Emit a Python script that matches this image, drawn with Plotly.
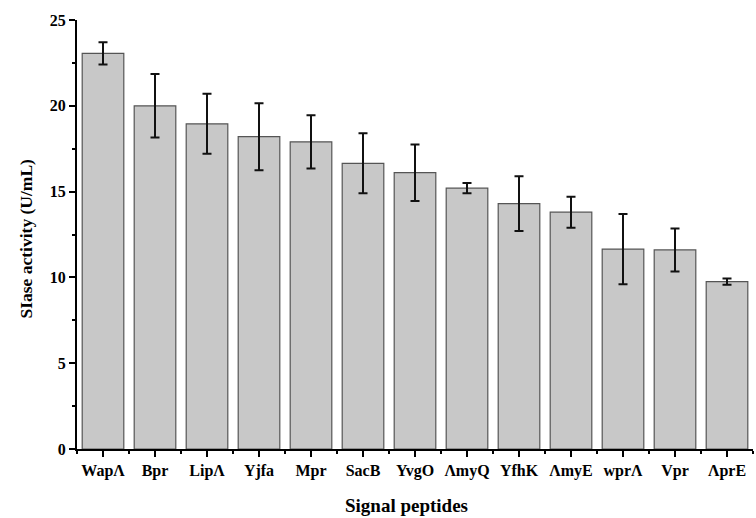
import plotly.graph_objects as go

categories = ["WapΛ", "Bpr", "LipΛ", "Yjfa", "Mpr", "SacB", "YvgO", "ΛmyQ", "YfhK", "ΛmyE", "wprΛ", "Vpr", "ΛprE"]
activity = [23.05, 20.0, 18.95, 18.2, 17.9, 16.65, 16.1, 15.2, 14.3, 13.8, 11.65, 11.6, 9.75]
errors = [0.65, 1.85, 1.75, 1.95, 1.55, 1.75, 1.65, 0.3, 1.6, 0.9, 2.05, 1.25, 0.18]
y_ticks = [0, 5, 10, 15, 20, 25]

font = "Liberation Serif"

fig = go.Figure()
fig.add_trace(go.Bar(
    x=list(range(len(categories))),
    y=activity,
    width=0.8,
    marker=dict(color="#c8c8c8", line=dict(color="#555555", width=1.2)),
    error_y=dict(type="data", array=errors, visible=True, color="#111111", thickness=2, width=4.5),
))

fig.add_annotation(
    text="<b>Signal peptides</b>", xref="paper", yref="paper", x=0.487, y=0,
    yshift=-56, xanchor="center", yanchor="middle", showarrow=False,
    font=dict(family=font, size=19, color="black"),
)
fig.add_annotation(
    text="<b>SIase activity (U/mL)</b>", xref="paper", yref="paper", x=0, y=0.5,
    xshift=-52, yshift=-4, xanchor="center", yanchor="middle", showarrow=False, textangle=-90,
    font=dict(family=font, size=17.5, color="black"),
)

fig.update_layout(
    width=756, height=518,
    margin=dict(l=77, r=3, t=20, b=69),
    paper_bgcolor="white", plot_bgcolor="white",
    showlegend=False,
    font=dict(family=font, size=16, color="black"),
    xaxis=dict(
        automargin=False,
        range=[-0.5, len(categories) - 0.5],
        tickmode="array",
        tickvals=list(range(len(categories))),
        ticktext=["<b>%s</b>" % c for c in categories],
        ticks="outside", ticklen=6, tickwidth=2, tickcolor="black",
        minor=dict(tickmode="array", tickvals=[i + 0.5 for i in range(-1, len(categories))],
                   ticks="outside", ticklen=3, tickwidth=1.5, tickcolor="black"),
        showline=True, linecolor="black", linewidth=2,
        showgrid=False, zeroline=False,
        tickfont=dict(family=font, size=16, color="black"),
    ),
    yaxis=dict(
        automargin=False,
        range=[0, 25],
        tickmode="array",
        tickvals=y_ticks,
        ticktext=["<b>%d</b>" % v for v in y_ticks],
        ticks="outside", ticklen=6, tickwidth=2, tickcolor="black",
        minor=dict(dtick=2.5, ticks="outside", ticklen=3, tickwidth=1.5, tickcolor="black"),
        showline=True, linecolor="black", linewidth=2,
        showgrid=False, zeroline=False,
        tickfont=dict(family=font, size=16, color="black"),
    ),
)

fig.write_html("out.html", config={"displayModeBar": False},
               post_script="document.body.style.margin='0';")
